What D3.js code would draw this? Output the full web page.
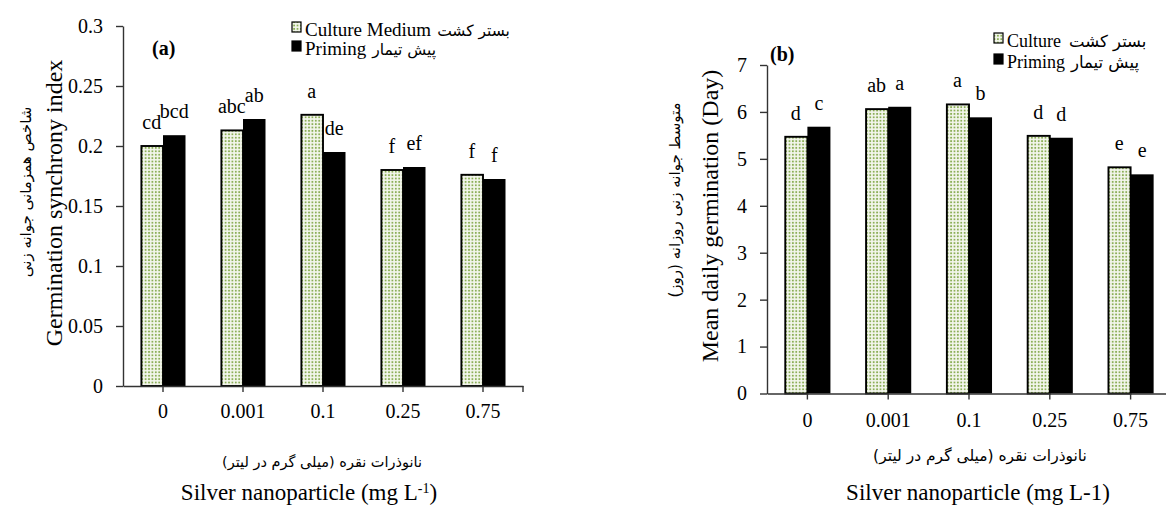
<!DOCTYPE html>
<html><head><meta charset="utf-8">
<script src="https://cdn.jsdelivr.net/npm/d3@7"></script>
<style>
body{margin:0;background:#fff}
svg{display:block}
text{font-family:"Liberation Serif","Times New Roman",serif;fill:#000}
.fa{font-family:"DejaVu Sans",sans-serif}
</style>
</head><body>
<svg id="c" width="1166" height="507"></svg>
<script>
// ---- data ----
const concentrations = ["0", "0.001", "0.1", "0.25", "0.75"];
const seriesNames = ["Culture", "Priming"];

const syncCulture = [0.200, 0.213, 0.226, 0.180, 0.176];
const syncPriming = [0.209, 0.2225, 0.195, 0.1825, 0.1725];
const syncLettersCulture = ["cd", "abc", "a", "f", "f"];
const syncLettersPriming = ["bcd", "ab", "de", "ef", "f"];
const syncTicks = [0, 0.05, 0.1, 0.15, 0.2, 0.25, 0.3];

const mdgCulture = [5.47, 6.06, 6.16, 5.49, 4.82];
const mdgPriming = [5.685, 6.11, 5.885, 5.45, 4.67];
const mdgLettersCulture = ["d", "ab", "a", "d", "e"];
const mdgLettersPriming = ["c", "a", "b", "d", "e"];
const mdgTicks = [0, 1, 2, 3, 4, 5, 6, 7];

const svg = d3.select("#c");
const defs = svg.append("defs");
const pat = defs.append("pattern").attr("id", "dots")
  .attr("patternUnits", "userSpaceOnUse").attr("width", 3.4).attr("height", 3.4);
pat.append("rect").attr("width", 3.4).attr("height", 3.4).attr("fill", "#f3f6ec");
pat.append("rect").attr("x", 0.8).attr("y", 0.8).attr("width", 1.8).attr("height", 1.8).attr("fill", "#8caf58");

function panel(o) {
  const x = d3.scaleBand().domain(concentrations).range([o.left, o.right])
    .paddingInner(o.pi).paddingOuter(o.po);
  const xs = d3.scaleBand().domain(seriesNames).range([0, x.bandwidth()]);
  const y = d3.scaleLinear().domain([0, o.max]).range([o.bottom, o.top]);
  const g = svg.append("g");

  const rows = concentrations.map((c, i) => ({
    c,
    vals: [
      { s: "Culture", v: o.culture[i], l: o.lc[i] },
      { s: "Priming", v: o.priming[i], l: o.lp[i] }
    ]
  }));

  const grp = g.selectAll("g.grp").data(rows).join("g")
    .attr("transform", d => `translate(${x(d.c)},0)`);
  grp.selectAll("rect").data(d => d.vals).join("rect")
    .attr("x", d => xs(d.s) + (d.s === "Culture" ? 0.9 : 0))
    .attr("width", d => xs.bandwidth() - (d.s === "Culture" ? 0.9 : 0))
    .attr("y", d => y(d.v))
    .attr("height", d => y(0) - y(d.v))
    .attr("fill", d => d.s === "Culture" ? "url(#dots)" : "#000")
    .attr("stroke", d => d.s === "Culture" ? "#000" : "none")
    .attr("stroke-width", 1.9);
  grp.selectAll("text.lt").data(d => d.vals).join("text").attr("class", "lt")
    .attr("x", d => xs(d.s) + xs.bandwidth() / 2)
    .attr("y", d => y(d.v) - 17)
    .attr("text-anchor", "middle")
    .style("font-size", "20px")
    .text(d => d.l);

  // y axis
  const ya = g.append("g").attr("transform", `translate(${o.left},0)`)
    .call(d3.axisLeft(y).tickValues(o.ticks).tickSize(7).tickSizeOuter(0).tickPadding(13)
      .tickFormat(d3.format("~g")));
  // x axis
  const xa = g.append("g").attr("transform", `translate(0,${y(0)})`)
    .call(d3.axisBottom(x).tickSize(6).tickSizeOuter(0).tickPadding(o.xpad));
  xa.append("line").attr("x1", o.right).attr("x2", o.right).attr("y1", 0).attr("y2", 6);
  [ya, xa].forEach(a => {
    a.selectAll("path,line").attr("stroke", "#333").attr("stroke-width", 1.4);
    a.selectAll("text").style("font-size", "20px").style("font-family", "Liberation Serif").attr("fill", "#000");
  });
  return { x, y };
}

panel({ left: 123, right: 523, top: 26, bottom: 386, max: 0.3, pi: 0.4375, po: 0.21875,
  culture: syncCulture, priming: syncPriming, lc: syncLettersCulture, lp: syncLettersPriming,
  ticks: syncTicks, xpad: 12 });
panel({ left: 767, right: 1171, top: 65, bottom: 393.5, max: 7, pi: 0.43, po: 0.215,
  culture: mdgCulture, priming: mdgPriming, lc: mdgLettersCulture, lp: mdgLettersPriming,
  ticks: mdgTicks, xpad: 13.5 });

// panel tags
svg.append("text").attr("x", 152).attr("y", 55).style("font-size", "20px").style("font-weight", "bold").text("(a)");
svg.append("text").attr("x", 770).attr("y", 61).style("font-size", "20px").style("font-weight", "bold").text("(b)");

// legends
function legend(x0, y0, dy, fs, faFs, items) {
  items.forEach((it, i) => {
    const by = y0 + i * dy;
    svg.append("rect").attr("x", x0).attr("y", by - 14).attr("width", 9).attr("height", 10)
      .attr("fill", it.fill).attr("stroke", "#000").attr("stroke-width", 1.2);
    const t = svg.append("text").attr("x", x0 + 13).attr("y", by).style("font-size", fs + "px").text(it.en);
    const w = t.node().getComputedTextLength();
    svg.append("text").attr("class", "fa").attr("x", x0 + 13 + w + it.gap).attr("y", by)
      .style("font-size", faFs + "px").attr("direction", "rtl").attr("text-anchor", "end").text(it.fa);
  });
}
legend(292, 36, 19, 19, 15.5, [
  { fill: "url(#dots)", en: "Culture Medium", fa: "بستر کشت", gap: 6 },
  { fill: "#000", en: "Priming", fa: "پیش تیمار", gap: 6 }
]);
legend(994, 47, 21, 18, 16.5, [
  { fill: "url(#dots)", en: "Culture", fa: "بستر کشت", gap: 8 },
  { fill: "#000", en: "Priming", fa: "پیش تیمار", gap: 6 }
]);

// axis titles
function vtitle(x, y, txt, fs, cls) {
  svg.append("text").attr("class", cls || null).attr("transform", `translate(${x},${y}) rotate(-90)`)
    .attr("text-anchor", "middle").style("font-size", fs + "px").text(txt);
}
vtitle(62, 203, "Germination synchrony index", 24);
vtitle(31, 192, "شاخص همزمانی جوانه زنی", 15, "fa");
vtitle(718, 216, "Mean daily germination (Day)", 24);
vtitle(680, 200, "متوسط جوانه زنی روزانه (روز)", 15, "fa");

svg.append("text").attr("class", "fa").attr("x", 322).attr("y", 467).attr("text-anchor", "middle")
  .style("font-size", "14.5px").text("نانوذرات نقره (میلی گرم در لیتر)");
svg.append("text").attr("class", "fa").attr("x", 980).attr("y", 461).attr("text-anchor", "middle")
  .style("font-size", "15.5px").text("نانوذرات نقره (میلی گرم در لیتر)");

const xt = svg.append("text").attr("x", 309).attr("y", 500).attr("text-anchor", "middle").style("font-size", "23px");
xt.append("tspan").text("Silver nanoparticle (mg L");
xt.append("tspan").attr("baseline-shift", "super").style("font-size", "14px").text("-1");
xt.append("tspan").text(")");
svg.append("text").attr("x", 978).attr("y", 500).attr("text-anchor", "middle").style("font-size", "23px")
  .text("Silver nanoparticle (mg L-1)");
</script>
</body></html>
